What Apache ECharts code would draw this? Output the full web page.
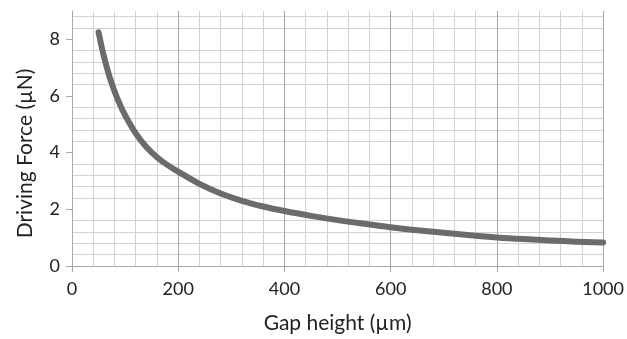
<!DOCTYPE html>
<html>
<head>
<meta charset="utf-8">
<script src="https://cdn.jsdelivr.net/npm/echarts@6/dist/echarts.min.js"></script>
<style>
html,body{margin:0;padding:0;background:#fff;}
#chart{width:627px;height:339px;}
</style>
</head>
<body>
<div id="chart"></div>
<script>
// Data
const gapHeight = [50, 60, 70, 80, 90, 100, 120, 140, 160, 180, 200, 240, 280, 320, 360, 400, 450, 500, 550, 600, 650, 700, 750, 800, 850, 900, 950, 1000];
const drivingForce = [8.25, 7.40, 6.72, 6.17, 5.71, 5.32, 4.68, 4.20, 3.84, 3.56, 3.33, 2.90, 2.56, 2.30, 2.10, 1.94, 1.77, 1.62, 1.49, 1.37, 1.265, 1.17, 1.085, 1.01, 0.95, 0.90, 0.86, 0.83];
const yTickLabels = [0, 2, 4, 6, 8];
const xTitle = 'Gap height (\u00b5m)';
const yTitle = 'Driving Force (\u00b5N)';

const seriesData = gapHeight.map((h, i) => [h, drivingForce[i]]);
const font = 'Lato, "Open Sans", sans-serif';
const chart = echarts.init(document.getElementById('chart'), null, {renderer: 'canvas'});
chart.setOption({
  animation: false,
  backgroundColor: '#ffffff',
  grid: {left: 72, right: 21, top: 11, bottom: 73, containLabel: false},
  xAxis: {
    type: 'value', min: 0, max: 1000, interval: 200,
    name: xTitle, nameLocation: 'middle', nameGap: 47,
    nameTextStyle: {fontFamily: font, fontSize: 21, color: '#222'},
    axisLine: {show: true, lineStyle: {color: '#a8a8a8', width: 1}},
    axisTick: {show: true, length: 6, lineStyle: {color: '#a8a8a8'}},
    axisLabel: {fontFamily: font, fontSize: 18, color: '#222', margin: 14, formatter: v => String(v)},
    splitLine: {show: true, lineStyle: {color: '#a6a6a8', width: 1}},
    minorTick: {show: false, splitNumber: 5},
    minorSplitLine: {show: true, lineStyle: {color: '#d2d2d4', width: 1}}
  },
  yAxis: {
    type: 'value', min: 0, max: 9, interval: 2,
    name: yTitle, nameLocation: 'middle', nameGap: 36,
    nameTextStyle: {fontFamily: font, fontSize: 21, color: '#222', padding: [0, 30, 0, 0]},
    axisLine: {show: true, lineStyle: {color: '#a8a8a8', width: 1}},
    axisTick: {show: true, length: 6, lineStyle: {color: '#a8a8a8'}, customValues: yTickLabels},
    axisLabel: {fontFamily: font, fontSize: 18, color: '#222', margin: 12, customValues: yTickLabels},
    splitLine: {show: false},
    minorTick: {show: false, splitNumber: 5},
    minorSplitLine: {show: true, lineStyle: {color: '#d2d2d4', width: 1}}
  },
  series: [{
    type: 'line',
    data: seriesData,
    smooth: 0.4,
    showSymbol: false,
    symbol: 'none',
    lineStyle: {color: '#6b6b6e', width: 6, cap: 'round', join: 'round'},
    z: 5
  }]
});
</script>
</body>
</html>
